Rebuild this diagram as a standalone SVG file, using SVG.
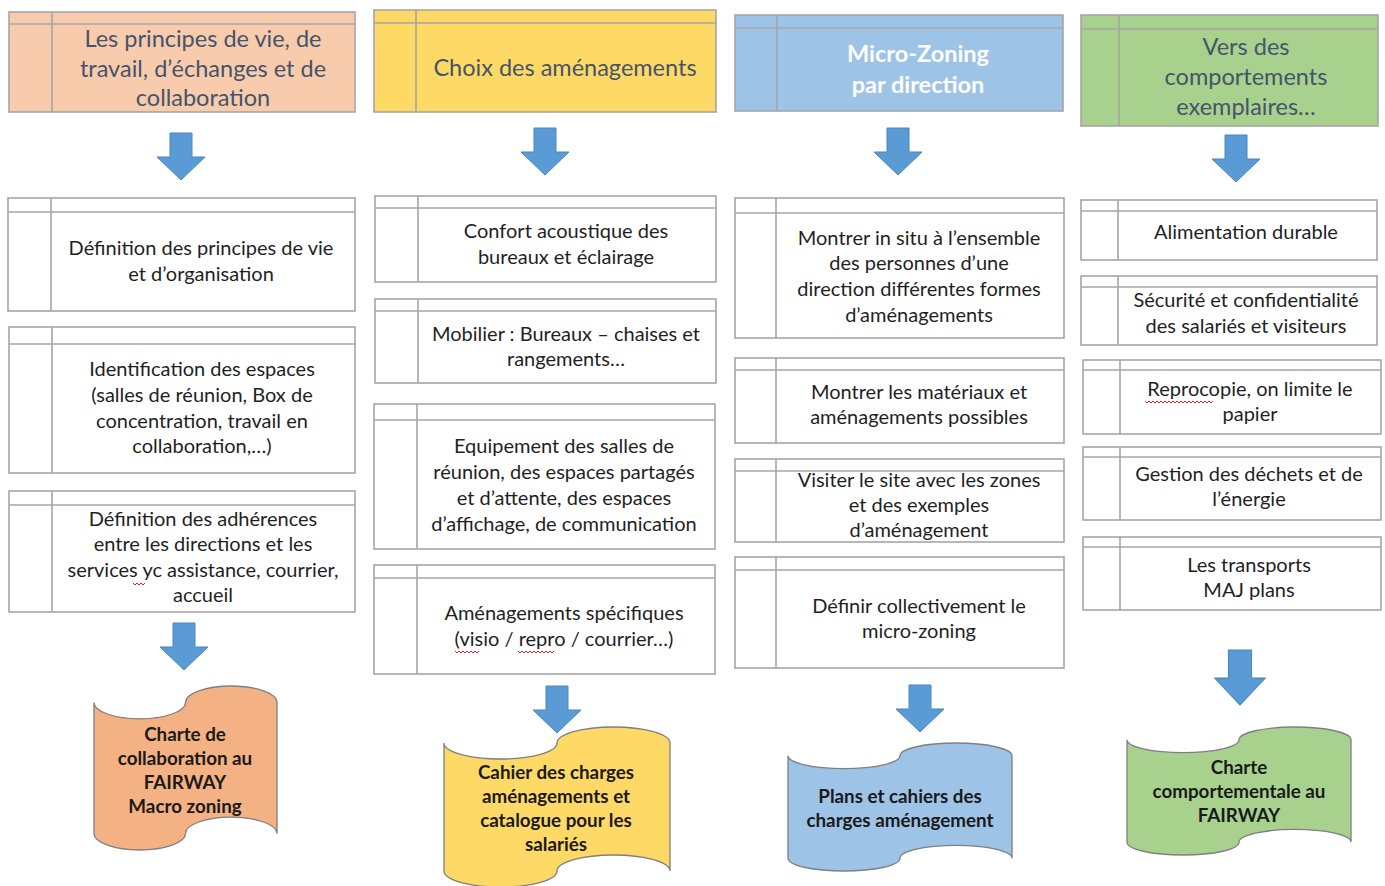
<svg xmlns="http://www.w3.org/2000/svg" width="1385" height="886" viewBox="0 0 1385 886">
<style>
.bx{fill:#fff;stroke:#A6A6A6;stroke-width:1.6}
.ln{stroke:#A6A6A6;stroke-width:1.6;fill:none}
.h1{fill:#F8CBAD}.h2{fill:#FFD966}.h3{fill:#9DC3E6}.h4{fill:#A9D18E}
.t{font-family:Lato,"Liberation Sans",sans-serif;font-size:20px;fill:#1f1f1f;text-anchor:middle}
.ht{font-family:Lato,"Liberation Sans",sans-serif;font-size:23.5px;fill:#44546A;text-anchor:middle}
.hw{font-family:Lato,"Liberation Sans",sans-serif;font-size:23.5px;fill:#fff;font-weight:bold;text-anchor:middle}
.st{font-family:Lato,"Liberation Sans",sans-serif;font-size:18.8px;fill:#1a1a1a;font-weight:bold;text-anchor:middle}
.sc{stroke:#7F7F7F;stroke-width:1.3}
.ar{fill:#5B9BD5;stroke:#4A86C0;stroke-width:1}
.sp{fill:none;stroke:#E02020;stroke-width:1}
</style>
<defs>
<path id="arr" d="M-11,0 h22 v24 h13 L0,47 L-24,24 h13 Z"/>
</defs>

<!-- Column 1 -->
<g id="h1">
<rect class="bx h1" x="9" y="12" width="346" height="100"/>
<path class="ln" d="M9,24 H355 M52,12 V112"/>
<text class="ht" x="203" y="47">Les principes de vie, de</text>
<text class="ht" x="203" y="77">travail, d’échanges et de</text>
<text class="ht" x="203" y="106">collaboration</text>
</g>
<g id="c1a">
<rect class="bx" x="8" y="198" width="347" height="113"/>
<path class="ln" d="M8,212 H355 M51,198 V311"/>
<text class="t" x="201" y="255">Définition des principes de vie</text>
<text class="t" x="201" y="281">et d’organisation</text>
</g>
<g id="c1b">
<rect class="bx" x="9" y="327" width="346" height="146"/>
<path class="ln" d="M9,344 H355 M52,327 V473"/>
<text class="t" x="202" y="376">Identification des espaces</text>
<text class="t" x="202" y="402">(salles de réunion, Box de</text>
<text class="t" x="202" y="428">concentration, travail en</text>
<text class="t" x="202" y="453">collaboration,…)</text>
</g>
<g id="c1c">
<rect class="bx" x="9" y="491" width="346" height="121"/>
<path class="ln" d="M9,505 H355 M52,491 V612"/>
<text class="t" x="203" y="526">Définition des adhérences</text>
<text class="t" x="203" y="551">entre les directions et les</text>
<text class="t" x="203" y="577">services yc assistance, courrier,</text>
<text class="t" x="203" y="602">accueil</text>
<path class="sp" d="M133,583 l2,2 l2,-2 l2,2 l2,-2 l2,2 l2,-2"/>
</g>
<g id="s1">
<path class="sc" style="fill:#F4B183" d="M94,702.4 A45.75,16.4 0 0 0 185.5,702.4 A45.75,16.4 0 0 1 277,702.4 L277,833.6 A45.75,16.4 0 0 0 185.5,833.6 A45.75,16.4 0 0 1 94,833.6 Z"/>
<text class="st" x="185" y="741">Charte de</text>
<text class="st" x="185" y="765">collaboration au</text>
<text class="st" x="185" y="789">FAIRWAY</text>
<text class="st" x="185" y="813">Macro zoning</text>
</g>

<!-- Column 2 -->
<g id="h2">
<rect class="bx h2" x="374" y="10" width="342" height="102"/>
<path class="ln" d="M374,23 H716 M416,10 V112"/>
<text class="ht" x="565" y="76">Choix des aménagements</text>
</g>
<g id="c2a">
<rect class="bx" x="375" y="196" width="341" height="86"/>
<path class="ln" d="M375,208 H716 M418,196 V282"/>
<text class="t" x="566" y="238">Confort acoustique des</text>
<text class="t" x="566" y="264">bureaux et éclairage</text>
</g>
<g id="c2b">
<rect class="bx" x="375" y="299" width="341" height="84"/>
<path class="ln" d="M375,311 H716 M418,299 V383"/>
<text class="t" x="566" y="341">Mobilier : Bureaux – chaises et</text>
<text class="t" x="566" y="366">rangements…</text>
</g>
<g id="c2c">
<rect class="bx" x="374" y="404" width="341" height="145"/>
<path class="ln" d="M374,420 H715 M417,404 V549"/>
<text class="t" x="564" y="453">Equipement des salles de</text>
<text class="t" x="564" y="479">réunion, des espaces partagés</text>
<text class="t" x="564" y="505">et d’attente, des espaces</text>
<text class="t" x="564" y="531">d’affichage, de communication</text>
</g>
<g id="c2d">
<rect class="bx" x="374" y="565" width="341" height="109"/>
<path class="ln" d="M374,578 H715 M417,565 V674"/>
<text class="t" x="564" y="620">Aménagements spécifiques</text>
<text class="t" x="564" y="646">(visio / repro / courrier…)</text>
<path class="sp" d="M455,651 l2,2 l2,-2 l2,2 l2,-2 l2,2 l2,-2 l2,2 l2,-2 l2,2 l2,-2 l2,2 l2,-2"/>
<path class="sp" d="M518,651 l2,2 l2,-2 l2,2 l2,-2 l2,2 l2,-2 l2,2 l2,-2 l2,2 l2,-2 l2,2 l2,-2 l2,2 l2,-2 l2,2 l2,-2 l2,2 l2,-2"/>
</g>
<g id="s2">
<path class="sc" style="fill:#FFD966" d="M444,743 A56.5,16 0 0 0 557,743 A56.5,16 0 0 1 670,743 L670,871 A56.5,16 0 0 0 557,871 A56.5,16 0 0 1 444,871 Z"/>
<text class="st" x="556" y="779">Cahier des charges</text>
<text class="st" x="556" y="803">aménagements et</text>
<text class="st" x="556" y="827">catalogue pour les</text>
<text class="st" x="556" y="851">salariés</text>
</g>

<!-- Column 3 -->
<g id="h3">
<rect class="bx h3" x="735" y="15" width="328" height="96"/>
<path class="ln" d="M735,28 H1063 M777,15 V111"/>
<text class="hw" x="918" y="62">Micro-Zoning</text>
<text class="hw" x="918" y="93">par direction</text>
</g>
<g id="c3a">
<rect class="bx" x="735" y="198" width="329" height="140"/>
<path class="ln" d="M735,213 H1064 M776,198 V338"/>
<text class="t" x="919" y="245">Montrer in situ à l’ensemble</text>
<text class="t" x="919" y="270">des personnes d’une</text>
<text class="t" x="919" y="296">direction différentes formes</text>
<text class="t" x="919" y="322">d’aménagements</text>
</g>
<g id="c3b">
<rect class="bx" x="735" y="358" width="329" height="85"/>
<path class="ln" d="M735,370 H1064 M776,358 V443"/>
<text class="t" x="919" y="399">Montrer les matériaux et</text>
<text class="t" x="919" y="424">aménagements possibles</text>
</g>
<g id="c3c">
<rect class="bx" x="735" y="459" width="329" height="83"/>
<path class="ln" d="M735,471 H1064 M776,459 V542"/>
<text class="t" x="919" y="487">Visiter le site avec les zones</text>
<text class="t" x="919" y="512">et des exemples</text>
<text class="t" x="919" y="537">d’aménagement</text>
</g>
<g id="c3d">
<rect class="bx" x="735" y="557" width="329" height="111"/>
<path class="ln" d="M735,570 H1064 M776,557 V668"/>
<text class="t" x="919" y="613">Définir collectivement le</text>
<text class="t" x="919" y="638">micro-zoning</text>
</g>
<g id="s3">
<path class="sc" style="fill:#9DC3E6" d="M788,755.8 A56,12.8 0 0 0 900,755.8 A56,12.8 0 0 1 1012,755.8 L1012,858.2 A56,12.8 0 0 0 900,858.2 A56,12.8 0 0 1 788,858.2 Z"/>
<text class="st" x="900" y="803">Plans et cahiers des</text>
<text class="st" x="900" y="827">charges aménagement</text>
</g>

<!-- Column 4 -->
<g id="h4">
<rect class="bx h4" x="1081" y="15" width="297" height="111"/>
<path class="ln" d="M1081,29 H1378 M1119,15 V126"/>
<text class="ht" x="1246" y="55">Vers des</text>
<text class="ht" x="1246" y="85">comportements</text>
<text class="ht" x="1246" y="115">exemplaires…</text>
</g>
<g id="c4a">
<rect class="bx" x="1081" y="200" width="296" height="60"/>
<path class="ln" d="M1081,211 H1377 M1118,200 V260"/>
<text class="t" x="1246" y="239">Alimentation durable</text>
</g>
<g id="c4b">
<rect class="bx" x="1081" y="276" width="296" height="69"/>
<path class="ln" d="M1081,287 H1377 M1118,276 V345"/>
<text class="t" x="1246" y="307">Sécurité et confidentialité</text>
<text class="t" x="1246" y="333">des salariés et visiteurs</text>
</g>
<g id="c4c">
<rect class="bx" x="1083" y="360" width="298" height="74"/>
<path class="ln" d="M1083,370 H1381 M1120,360 V434"/>
<text class="t" x="1250" y="396">Reprocopie, on limite le</text>
<text class="t" x="1250" y="421">papier</text>
<path class="sp" d="M1145,401 l2,2 l2,-2 l2,2 l2,-2 l2,2 l2,-2 l2,2 l2,-2 l2,2 l2,-2 l2,2 l2,-2 l2,2 l2,-2 l2,2 l2,-2 l2,2 l2,-2 l2,2 l2,-2 l2,2 l2,-2 l2,2 l2,-2 l2,2 l2,-2 l2,2 l2,-2 l2,2 l2,-2 l2,2 l2,-2 l2,2 l2,-2"/>
</g>
<g id="c4d">
<rect class="bx" x="1083" y="447" width="298" height="73"/>
<path class="ln" d="M1083,457 H1381 M1120,447 V520"/>
<text class="t" x="1249" y="481">Gestion des déchets et de</text>
<text class="t" x="1249" y="506">l’énergie</text>
</g>
<g id="c4e">
<rect class="bx" x="1083" y="537" width="298" height="73"/>
<path class="ln" d="M1083,547 H1381 M1120,537 V610"/>
<text class="t" x="1249" y="572">Les transports</text>
<text class="t" x="1249" y="597">MAJ plans</text>
</g>
<g id="s4">
<path class="sc" style="fill:#A9D18E" d="M1127,739.8 A56,12.8 0 0 0 1239,739.8 A56,12.8 0 0 1 1351,739.8 L1351,842.2 A56,12.8 0 0 0 1239,842.2 A56,12.8 0 0 1 1127,842.2 Z"/>
<text class="st" x="1239" y="774">Charte</text>
<text class="st" x="1239" y="798">comportementale au</text>
<text class="st" x="1239" y="822">FAIRWAY</text>
</g>

<!-- Connectors (block arrows) -->
<g id="connectors">
<use href="#arr" class="ar" transform="translate(181,133)"/>
<use href="#arr" class="ar" transform="translate(184,623)"/>
<use href="#arr" class="ar" transform="translate(545,128)"/>
<use href="#arr" class="ar" transform="translate(557,686)"/>
<use href="#arr" class="ar" transform="translate(898,128)"/>
<use href="#arr" class="ar" transform="translate(920,685)"/>
<use href="#arr" class="ar" transform="translate(1236,135)"/>
<use href="#arr" class="ar" transform="translate(1240,650) scale(1.05,1.17)"/>
</g>
</svg>
